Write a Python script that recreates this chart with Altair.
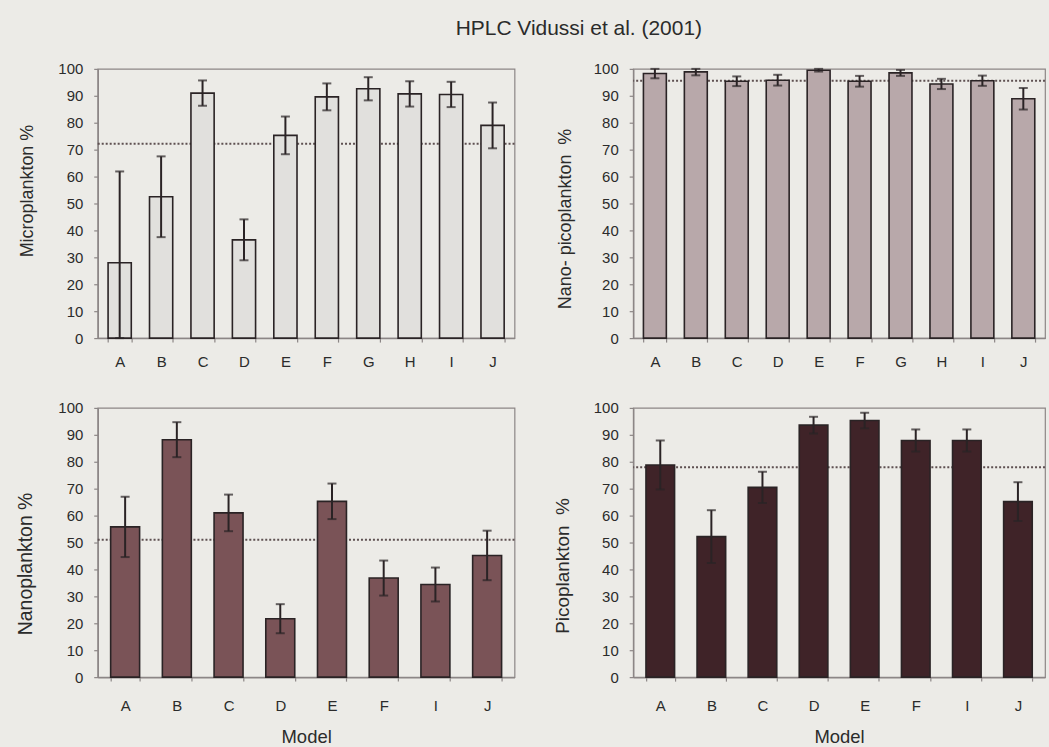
import altair as alt
import pandas as pd

# Model labels for each row of panels
models_top = ["A", "B", "C", "D", "E", "F", "G", "H", "I", "J"]
models_bottom = ["A", "B", "C", "D", "E", "F", "I", "J"]

# Microplankton share (%) and its error
micro = [28.0, 52.5, 91.0, 36.5, 75.3, 89.6, 92.6, 90.7, 90.5, 79.0]
micro_err = [33.9, 15.0, 4.7, 7.6, 7.0, 5.0, 4.3, 4.7, 4.7, 8.5]
micro_ref = 72.2

# Nano- + picoplankton share (%) and its error
nanopico = [98.3, 98.9, 95.4, 95.8, 99.5, 95.4, 98.5, 94.4, 95.6, 88.9]
nanopico_err = [1.8, 1.3, 1.8, 2.0, 0.5, 2.0, 1.1, 1.9, 1.9, 4.0]
nanopico_ref = 95.6

# Nanoplankton share (%) and its error
nano = [55.8, 88.2, 61.0, 21.7, 65.3, 36.8, 34.4, 45.2]
nano_err = [11.2, 6.5, 6.8, 5.4, 6.6, 6.5, 6.3, 9.2]
nano_ref = 51.0

# Picoplankton share (%) and its error
pico = [78.8, 52.2, 70.5, 93.6, 95.3, 87.9, 87.9, 65.2]
pico_err = [9.1, 9.8, 5.8, 3.1, 2.9, 4.1, 4.1, 7.2]
pico_ref = 78.0

BG = "#ecebe7"
AXIS = "#8c8686"
INK = "#2a2325"
TEXT = "#2b2b2b"
FONT = "Liberation Sans"
Y_TICKS = list(range(0, 101, 10))


def panel(models, values, errs, ref, fill, ytitle, ytitle_size, width,
          title_x, title_y, x_label_pad, show_xtitle):
    df = pd.DataFrame({"model": models, "value": values, "err": errs})
    base = alt.Chart(df)

    x_axis = alt.Axis(
        title="Model" if show_xtitle else None,
        labelAngle=0,
        tickBand="extent",
        labelPadding=x_label_pad,
        titleY=66,
        titleFontSize=18.5,
        titleBaseline="alphabetic",
    )
    x = alt.X("model:N", sort=models, axis=x_axis,
              scale=alt.Scale(paddingInner=0.44, paddingOuter=0.25))
    y_axis = alt.Axis(
        title=ytitle,
        titleFontSize=ytitle_size,
        values=Y_TICKS,
        tickCount=11,
        labelOverlap=False,
        labelPadding=11,
        titleX=title_x,
        titleY=title_y,
        titleBaseline="alphabetic",
    )
    y_scale = alt.Scale(domain=[0, 100], nice=False)

    def y_of(field):
        return alt.Y(field, scale=y_scale, axis=y_axis)

    ref_line = alt.Chart(pd.DataFrame({"ref": [ref]})).mark_rule(
        color="#5e5051", strokeWidth=2, strokeDash=[2, 2]
    ).encode(y=y_of("ref:Q"))

    bars = base.mark_bar(fill=fill, stroke=INK, strokeWidth=1.6).encode(
        x=x, y=y_of("value:Q")
    )

    limits = base.transform_calculate(
        lo="max(0, datum.value - datum.err)",
        hi="min(100, datum.value + datum.err)",
    )
    whisker = limits.mark_rule(color=INK, strokeWidth=2).encode(
        x=x, y=y_of("lo:Q"), y2="hi:Q"
    )
    cap_lo = limits.mark_tick(color=INK, thickness=2, size=9).encode(
        x=x, y=y_of("lo:Q"))
    cap_hi = limits.mark_tick(color=INK, thickness=2, size=9).encode(
        x=x, y=y_of("hi:Q"))

    return alt.layer(ref_line, bars, whisker, cap_lo, cap_hi).properties(
        width=width, height=270
    )


p_micro = panel(models_top, micro, micro_err, micro_ref, "#e1e0dd",
                "Microplankton %", 18, 418, -65, 122, 12, False)
p_nanopico = panel(models_top, nanopico, nanopico_err, nanopico_ref, "#b8a8aa",
                   "Nano- picoplankton\u00a0\u00a0%", 18, 413, -63, 150, 12, False)
p_nano = panel(models_bottom, nano, nano_err, nano_ref, "#7a5357",
               "Nanoplankton %", 19.5, 418, -66, 156, 17, True)
p_pico = panel(models_bottom, pico, pico_err, pico_ref, "#3f2328",
               "Picoplankton\u00a0\u00a0%", 19, 413, -65, 158, 17, True)

chart = alt.concat(
    p_micro, p_nanopico, p_nano, p_pico,
    columns=2, spacing={"row": 70, "column": 119}, bounds="flush",
).properties(
    title=alt.TitleParams(
        "HPLC Vidussi et al. (2001)",
        fontSize=21, font=FONT, fontWeight="normal", color=TEXT,
        anchor="middle", frame="bounds", dx=48, offset=22,
    ),
    padding={"left": 15, "top": 17, "right": 2, "bottom": 0},
    background=BG,
).configure_view(
    stroke=AXIS, strokeWidth=1.2, fill=BG
).configure_axis(
    grid=False,
    domainColor=AXIS, domainWidth=1.5,
    tickColor=AXIS, tickSize=4, tickWidth=1.2,
    labelFont=FONT, labelFontSize=15, labelColor=TEXT,
    titleFont=FONT, titleFontSize=19, titleFontWeight="normal", titleColor=TEXT,
)

chart.save("out.html", embed_options={"renderer": "svg", "actions": False})
